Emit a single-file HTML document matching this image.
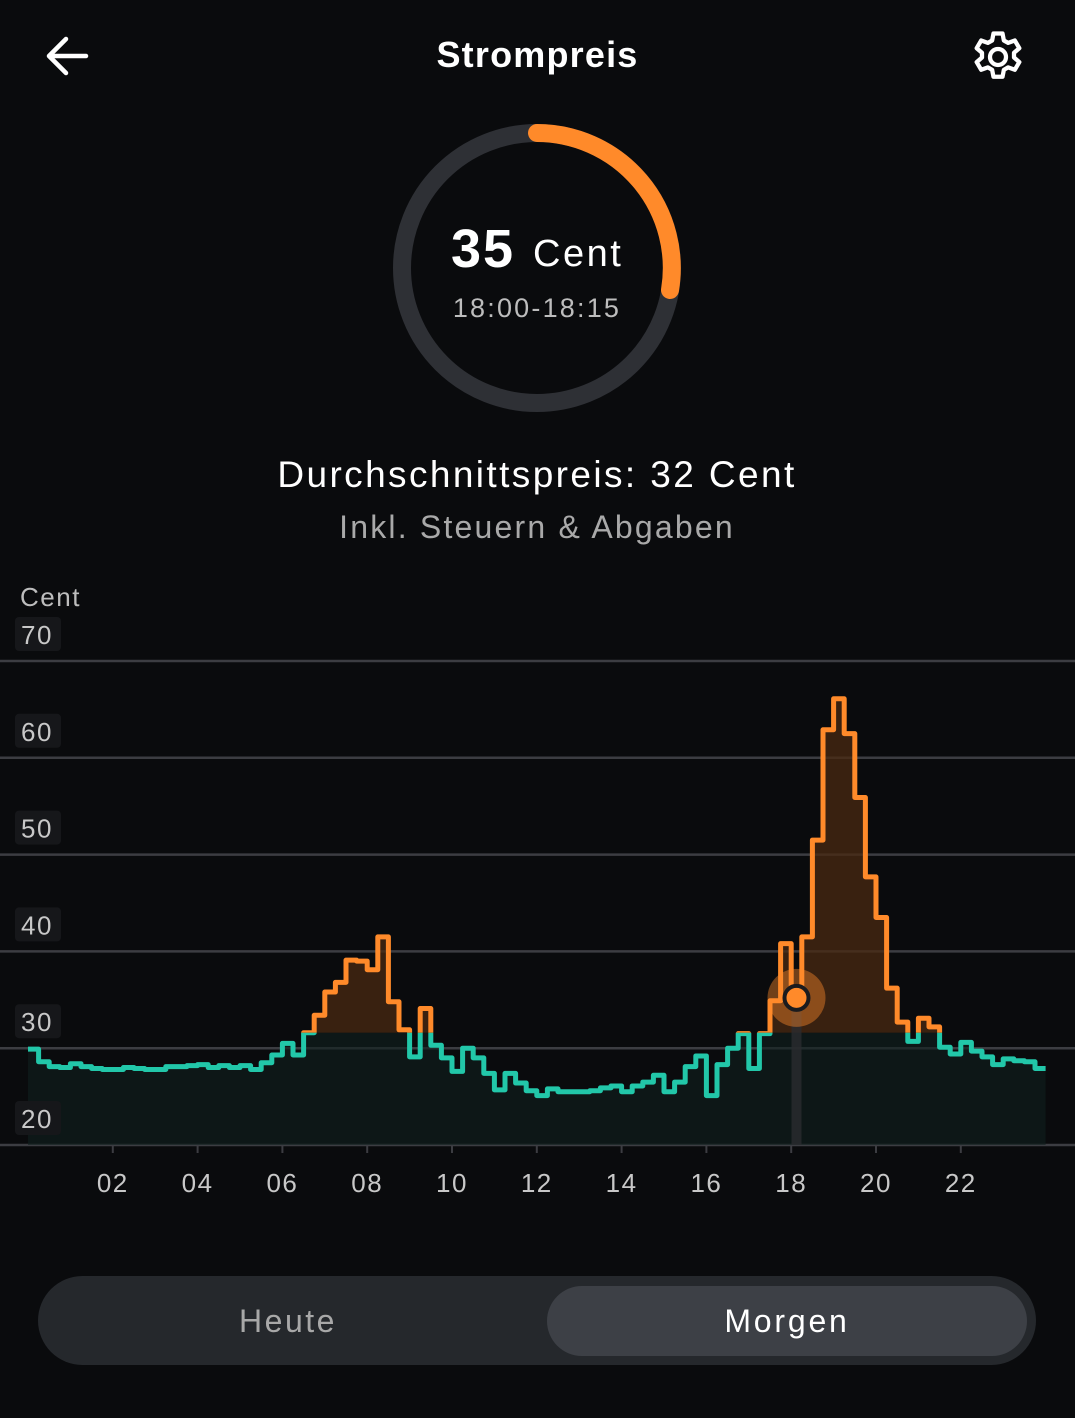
<!DOCTYPE html>
<html><head><meta charset="utf-8">
<style>
html,body{margin:0;padding:0;background:#0a0b0d;width:1075px;height:1418px;overflow:hidden;font-family:"Liberation Sans",sans-serif;color:#fff}
.abs{position:absolute}
</style></head>
<body>
<div class="abs" style="left:44px;top:34px;width:46px;height:44px">
<svg width="46" height="44"><path d="M42 22H6M22 5L5 22L22 39" stroke="#fff" stroke-width="4.5" fill="none" stroke-linecap="round" stroke-linejoin="round"/></svg></div>
<div class="abs" style="left:0;width:1075px;top:34px;text-align:center;font-size:36px;font-weight:bold;letter-spacing:1.2px">Strompreis</div>
<div class="abs" style="left:966px;top:25px;width:64px;height:64px">
<svg width="64" height="64" viewBox="0 0 24 24"><path fill="none" stroke="#fff" stroke-width="1.6" stroke-linejoin="round" d="M10.3 2h3.4l.5 2.6 1.6.9 2.5-.9 1.7 2.9-2 1.7v1.8l2 1.7-1.7 2.9-2.5-.9-1.6.9-.5 2.6h-3.4l-.5-2.6-1.6-.9-2.5.9-1.7-2.9 2-1.7V9.2l-2-1.7 1.7-2.9 2.5.9 1.6-.9z" transform="translate(0,1.2)"/><circle cx="12" cy="12" r="3" fill="none" stroke="#fff" stroke-width="1.6"/></svg></div>

<svg class="abs" style="left:0;top:0" width="1075" height="560">
<circle cx="537" cy="268" r="135" fill="none" stroke="#2e3035" stroke-width="18"/>
<path d="M537 133 A135 135 0 0 1 670 290" fill="none" stroke="#ff8a2a" stroke-width="18" stroke-linecap="round"/>
<text x="451" y="267" font-size="54" font-weight="bold" fill="#fff" font-family="Liberation Sans" letter-spacing="2">35</text>
<text x="533" y="266" font-size="38" fill="#fff" font-family="Liberation Sans" letter-spacing="2.5">Cent</text>
<text x="537" y="317" font-size="27" fill="#bdbdbd" text-anchor="middle" font-family="Liberation Sans" letter-spacing="2.2">18:00-18:15</text>
<text x="537" y="487" font-size="37" fill="#fff" text-anchor="middle" font-family="Liberation Sans" letter-spacing="2.4">Durchschnittspreis: 32 Cent</text>
<text x="537" y="538" font-size="32" fill="#a9a9a9" text-anchor="middle" font-family="Liberation Sans" letter-spacing="2.2">Inkl. Steuern &amp; Abgaben</text>
</svg>

<svg class="abs" id="chart" style="left:0;top:560px" width="1075" height="660"></svg>

<div class="abs" style="left:38px;top:1276px;width:998px;height:89px;border-radius:45px;background:#25282c"></div>
<div class="abs" style="left:48px;top:1286px;width:480px;height:70px;line-height:70px;text-align:center;font-size:32px;color:#a8a8a8;letter-spacing:2.5px">Heute</div>
<div class="abs" style="left:547px;top:1286px;width:480px;height:70px;line-height:70px;text-align:center;font-size:32px;color:#fff;background:#3d4046;border-radius:35px;letter-spacing:2.8px">Morgen</div>

<script>
const prices = [29.9,28.6,28.1,28.0,28.4,28.1,27.9,27.8,27.8,28.0,27.9,27.8,27.8,28.1,28.1,28.2,
28.3,28.0,28.2,28.0,28.2,27.8,28.5,29.3,30.5,29.3,31.6,33.4,35.8,36.8,39.1,39.0,
38.1,41.5,34.8,31.9,29.1,34.1,30.3,29.0,27.6,30.0,29.0,27.4,25.7,27.4,26.4,25.6,
25.1,25.8,25.5,25.5,25.5,25.6,25.9,26.1,25.5,26.1,26.5,27.2,25.5,26.5,28.1,29.2,
25.1,28.3,30.0,31.5,27.9,31.5,34.9,40.8,35.2,41.5,51.5,62.9,66.1,62.5,55.9,47.7,
43.5,36.2,32.7,30.7,33.1,32.2,30.1,29.4,30.6,29.7,29.1,28.3,28.9,28.7,28.6,27.9];
const yTicks = [20,30,40,50,60,70];
const xTickLabels = ["02","04","06","08","10","12","14","16","18","20","22"];
const xTickHours = [2,4,6,8,10,12,14,16,18,20,22];
const threshold = 31.6;
const currentSlot = 72;

const svg = document.getElementById('chart');
const NS = 'http://www.w3.org/2000/svg';
const OY = 560;
const x = h => 28 + h * 42.4;
const y = v => 1145 - OY - (v - 20) * 9.68;
function mk(tag, attrs, parent){const e=document.createElementNS(NS,tag);for(const k in attrs)e.setAttribute(k,attrs[k]);(parent||svg).appendChild(e);return e;}

const lbl = mk('text',{x:20,y:46,'font-size':26,fill:'#bdbdbd','font-family':'Liberation Sans','letter-spacing':1.5});
lbl.textContent='Cent';



yTicks.forEach(t=>{
  const gl = mk('line',{x1:0,x2:1075,y1:y(t),y2:y(t),stroke:'#3c3d42','stroke-width':2.5});
  
  
});

xTickLabels.forEach((l,i)=>{
  const tk = mk('line',{x1:x(xTickHours[i]),x2:x(xTickHours[i]),y1:y(20),y2:y(20)+8,stroke:'#3c3d42','stroke-width':2});
  
  
  const tx = mk('text',{x:x(xTickHours[i]),y:y(20)+47,'font-size':26,fill:'#c8c8c8','text-anchor':'middle','font-family':'Liberation Sans','letter-spacing':1.5});
  tx.textContent = l;
  
  
});

let line = `M${x(0)} ${y(prices[0])}`;
prices.forEach((p,i)=>{ if(i>0) line += ` L${x(i/4)} ${y(p)}`; line += ` L${x((i+1)/4)} ${y(p)}`; });
const area = line + ` L${x(prices.length/4)} ${y(20)} L${x(0)} ${y(20)} Z`;

const defs = mk('defs',{});
const cpA = mk('clipPath',{id:'above'},defs); mk('rect',{x:0,y:0,width:1075,height:y(threshold)},cpA);
const cpB = mk('clipPath',{id:'below'},defs); mk('rect',{x:0,y:y(threshold),width:1075,height:600},cpB);

const fa = mk('path',{d:area,fill:'#4a2a12','fill-opacity':0.75,'clip-path':'url(#above)'});


const fb = mk('path',{d:area,fill:'#0f1f1e','fill-opacity':0.6,'clip-path':'url(#below)'});



const hl = mk('rect',{x:x((currentSlot+0.5)/4)-5,y:y(prices[currentSlot]),width:10,height:y(20)-y(prices[currentSlot]),fill:'#2a2c2f','fill-opacity':0.8});



const la = mk('path',{d:line,fill:'none',stroke:'#ff8a2a','stroke-width':5,'stroke-linejoin':'round','clip-path':'url(#above)'});


const lb = mk('path',{d:line,fill:'none',stroke:'#22c7a9','stroke-width':5,'stroke-linejoin':'round','clip-path':'url(#below)'});



yTicks.forEach(t=>{
  const bg = mk('rect',{x:15,y:y(t)-44,width:46,height:34,rx:4,fill:'#16171a'});
  
  
  const tx = mk('text',{x:21,y:y(t)-17,'font-size':26,fill:'#c8c8c8','font-family':'Liberation Sans','letter-spacing':1.5});
  tx.textContent = t;
  
  
});

const cx = x((currentSlot+0.5)/4), cy = y(prices[currentSlot]);
const glow = mk('circle',{cx:cx,cy:cy,r:29,fill:'#ff8a2a','fill-opacity':0.42});


const dot = mk('circle',{cx:cx,cy:cy,r:12,fill:'#ff8a2a',stroke:'#1a1b1e','stroke-width':4});


</script>
</body></html>
